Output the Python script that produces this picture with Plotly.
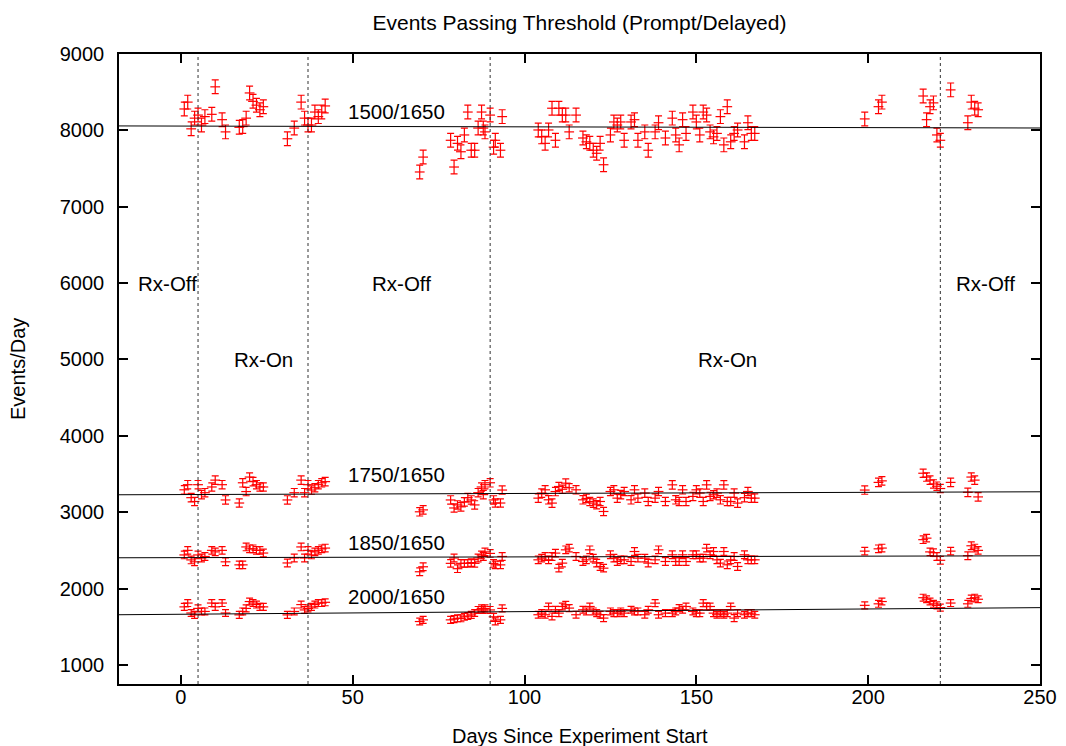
import plotly.graph_objects as go

# days since start, shared by all four threshold ratios
days = [1, 2, 3, 4, 5, 6, 7, 9, 10, 12, 13, 17, 18, 19, 20, 21, 22, 23, 24,
        31, 33, 35, 36, 37, 38, 39, 40, 41, 42,
        69.5, 70.5, 78.5, 79.5, 80.5, 81.5, 82.5, 83.5, 84.5, 85.5, 86.5, 87.5,
        88, 88.5, 90, 91, 91.5, 93, 93.5,
        104, 105, 106, 107, 108, 109, 110, 111, 112, 113, 115, 117, 118, 119,
        120, 121, 122, 123, 125, 126, 127, 128, 129, 131, 132, 133, 135, 136,
        138, 139, 141, 143, 144, 145, 146, 147, 149, 150, 151, 152, 153, 154,
        155, 156, 157, 158, 159, 160, 161, 162, 164, 165, 166, 167,
        199, 203, 204, 216, 217, 218, 219, 220, 221, 224, 229, 230, 231, 232]

rate_1500 = [8280, 8370, 8020, 8160, 8200, 8070, 8180, 8210, 8570, 8140, 7980,
             8040, 8050, 8160, 8490, 8380, 8330, 8270, 8310,
             7890, 8030, 8370, 8160, 8070, 8070, 8240, 8180, 8240, 8320,
             7455, 7650, 7870, 7520, 7830, 7720, 7940, 8240, 7740, 7740, 8030,
             8240, 8030, 7980, 8200, 7780, 7870, 7740, 8180,
             8005, 7915, 7830, 8005, 8290, 7870, 8290, 8200, 8200, 7980,
             8200, 7900, 7850, 7830, 7740, 7700, 7830, 7550,
             7940, 8110, 8070, 8110, 7870, 8110, 8140, 7870, 7980, 7740,
             7980, 8100, 7900, 8160, 7940, 7810, 8140, 7960,
             8240, 8110, 7940, 8240, 8200, 7980, 7915, 7960, 8180, 7810,
             8310, 7850, 7960, 8005, 7850, 8100, 7960, 7960,
             8150, 8310, 8370, 8450, 8140, 8310, 8360, 7940, 7870, 8530,
             8100, 8370, 8290, 8270]

rate_1750 = [3293, 3360, 3190, 3140, 3360, 3230, 3255, 3330, 3420, 3360, 3160,
             3120, 3385, 3270, 3460, 3400, 3360, 3330, 3330,
             3160, 3255, 3420, 3255, 3360, 3290, 3320, 3360, 3385, 3400,
             3005, 3030, 3160, 3055, 3095, 3070, 3135, 3190, 3160, 3095, 3255,
             3330, 3230, 3360, 3385, 3160, 3120, 3120, 3290,
             3184, 3250, 3293, 3162, 3119, 3270, 3336, 3300, 3380, 3320,
             3293, 3162, 3180, 3140, 3119, 3097, 3140, 3009,
             3271, 3293, 3184, 3230, 3271, 3162, 3293, 3184, 3250, 3140,
             3184, 3271, 3140, 3358, 3162, 3140, 3293, 3140,
             3206, 3293, 3250, 3140, 3358, 3206, 3228, 3250, 3162, 3358,
             3140, 3140, 3250, 3119, 3190, 3271, 3184, 3184,
             3290, 3390, 3410, 3510, 3460, 3420, 3370, 3340, 3310, 3390,
             3260, 3460, 3420, 3200]

rate_1850 = [2440, 2500, 2375, 2350, 2440, 2400, 2420, 2500, 2480, 2500, 2350,
             2310, 2310, 2545, 2520, 2520, 2500, 2500, 2465,
             2335, 2400, 2545, 2400, 2500, 2440, 2480, 2500, 2520, 2530,
             2220, 2285, 2330, 2400, 2260, 2330, 2330, 2330, 2340, 2330, 2400,
             2440, 2420, 2480, 2460, 2330, 2310, 2310, 2420,
             2376, 2398, 2420, 2376, 2420, 2464, 2267, 2333, 2507, 2529,
             2420, 2354, 2376, 2507, 2398, 2333, 2289, 2267,
             2442, 2398, 2354, 2376, 2376, 2354, 2485, 2398, 2398, 2333,
             2376, 2507, 2354, 2442, 2354, 2354, 2442, 2354,
             2442, 2442, 2398, 2398, 2529, 2442, 2485, 2376, 2333, 2485,
             2311, 2376, 2420, 2289, 2442, 2376, 2376, 2376,
             2490, 2520, 2530, 2640, 2660, 2480, 2470, 2420, 2370, 2490,
             2430, 2560, 2530, 2500]

rate_2000 = [1760, 1810, 1680, 1655, 1740, 1700, 1700, 1810, 1760, 1810, 1680,
             1655, 1700, 1740, 1830, 1810, 1790, 1760, 1760,
             1655, 1700, 1790, 1720, 1740, 1760, 1790, 1810, 1810, 1820,
             1568, 1590, 1590, 1600, 1610, 1610, 1630, 1640, 1655, 1680, 1720,
             1740, 1720, 1740, 1720, 1630, 1570, 1590, 1740,
             1657, 1678, 1657, 1765, 1635, 1722, 1678, 1765, 1787, 1744,
             1657, 1722, 1700, 1765, 1700, 1678, 1657, 1613,
             1700, 1678, 1678, 1700, 1678, 1722, 1700, 1700, 1657, 1722,
             1809, 1657, 1678, 1678, 1700, 1744, 1722, 1765,
             1700, 1678, 1678, 1809, 1765, 1765, 1678, 1657, 1678, 1657,
             1678, 1765, 1613, 1678, 1657, 1678, 1678, 1657,
             1780, 1800, 1830, 1880, 1860, 1830, 1800, 1780, 1750, 1810,
             1800, 1870, 1880, 1860]

# straight-line fits, evaluated at the ends of the x range
fit_days = [-18, 250]
fit_1500 = [8058, 8031]
fit_1750 = [3228, 3267]
fit_1850 = [2403, 2429]
fit_2000 = [1657, 1750]

# reactor on/off transitions
transition_days = [5, 37, 90, 221]

FONT = "Liberation Sans, Arial, sans-serif"

series = [
    ("1500/1650", rate_1500, fit_1500, 90, 8250),
    ("1750/1650", rate_1750, fit_1750, 55, 3500),
    ("1850/1650", rate_1850, fit_1850, 50, 2600),
    ("2000/1650", rate_2000, fit_2000, 45, 1900),
]

fig = go.Figure()
for name, vals, fit, err, label_y in series:
    fig.add_trace(go.Scatter(
        x=days, y=vals, mode="markers", name=name,
        marker=dict(symbol="line-ew", size=7, color="red",
                    line=dict(color="red", width=1.2)),
        error_y=dict(type="data", array=[err] * len(vals), color="red",
                     thickness=1.2, width=3.5),
        showlegend=False))
    fig.add_trace(go.Scatter(
        x=fit_days, y=fit, mode="lines",
        line=dict(color="black", width=1), showlegend=False))
    fig.add_annotation(x=48, y=label_y, text=name, showarrow=False,
                       xanchor="left", yanchor="middle", font=dict(size=20.5))

for d in transition_days:
    fig.add_vline(x=d, line=dict(color="#333333", width=1, dash="dot"))

for x, y, txt in [(-13, 6000, "Rx-Off"), (55, 6000, "Rx-Off"), (225, 6000, "Rx-Off"),
                  (15, 5000, "Rx-On"), (150, 5000, "Rx-On")]:
    fig.add_annotation(x=x, y=y, text=txt, showarrow=False,
                       xanchor="left", yanchor="middle", font=dict(size=20.5))

fig.add_annotation(xref="paper", yref="paper", x=0.5, y=-0.083,
                   text="Days Since Experiment Start", showarrow=False,
                   yanchor="middle")
fig.add_annotation(xref="paper", yref="paper", x=-0.1097, y=0.5,
                   text="Events/Day", showarrow=False, textangle=-90,
                   xanchor="center", yanchor="middle")

axis_style = dict(showgrid=False, zeroline=False, showline=True,
                  linecolor="black", linewidth=1.5, mirror="ticks",
                  ticks="inside", ticklen=9, tickcolor="black", tickwidth=1.5,
                  automargin=False)

fig.update_xaxes(range=[-18, 250], tickvals=[0, 50, 100, 150, 200, 250],
                 ticklabelstandoff=-6, **axis_style)
fig.update_yaxes(range=[750, 9000], tickvals=list(range(1000, 9001, 1000)),
                 ticklabelstandoff=9, **axis_style)

# the page body adds an 8px offset, so the figure is drawn 8px smaller
fig.update_layout(
    width=1058, height=738,
    margin=dict(l=111, r=26, t=46, b=62),
    paper_bgcolor="white", plot_bgcolor="white",
    font=dict(family=FONT, size=20, color="black"),
    title=dict(text="Events Passing Threshold (Prompt/Delayed)",
               xref="paper", x=0.5, yref="container", y=0.98,
               yanchor="middle", font=dict(size=21)),
)

fig.write_html("out.html")
